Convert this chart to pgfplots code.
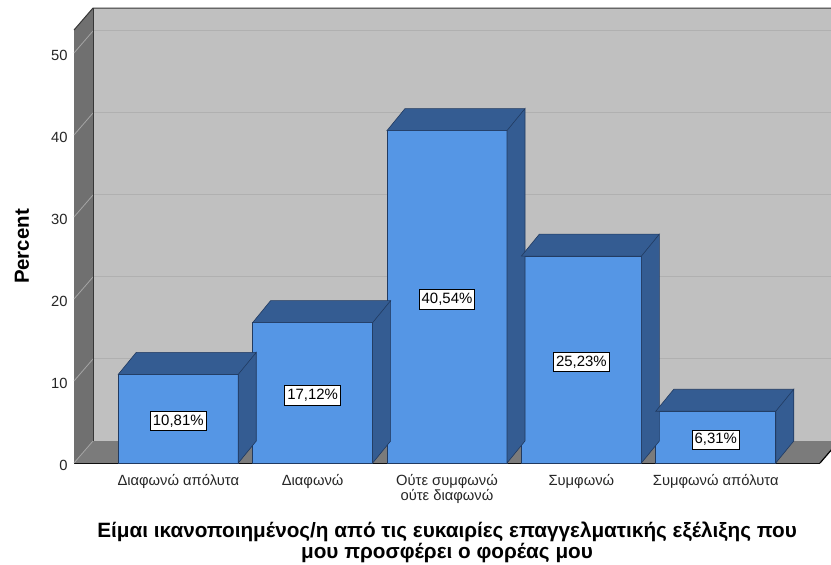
\documentclass[border=0pt]{standalone}
\usepackage{fontspec}
\setmainfont{Liberation Sans}
\usepackage{pgfplots}
\usepackage{pgfplotstable}
\pgfplotsset{compat=1.18}

\definecolor{barfront}{RGB}{85,150,229}
\definecolor{barside}{RGB}{52,92,146}
\definecolor{baredge}{RGB}{33,58,96}
\definecolor{wallback}{RGB}{192,192,192}
\definecolor{wallside}{RGB}{112,112,112}
\definecolor{floorc}{RGB}{123,123,123}
\definecolor{gridback}{RGB}{176,176,176}
\definecolor{gridside}{RGB}{165,165,165}
\definecolor{frameline}{RGB}{55,55,55}

% responses, in percent
\pgfplotstableread{
idx val
0 10.81
1 17.12
2 40.54
3 25.23
4 6.31
}\likert

% top and right faces of a bar; \barval is the bar's value (8.2bp per percent)
\pgfdeclareplotmark{barcap}{%
  \pgfmathsetmacro\capH{\barval*8.2}%
  \pgfpathmoveto{\pgfpoint{-60bp}{0bp}}%
  \pgfpathlineto{\pgfpoint{60bp}{0bp}}%
  \pgfpathlineto{\pgfpoint{78bp}{22bp}}%
  \pgfpathlineto{\pgfpoint{-42bp}{22bp}}%
  \pgfpathclose
  \pgfpathmoveto{\pgfpoint{60bp}{0bp}}%
  \pgfpathlineto{\pgfpoint{78bp}{22bp}}%
  \pgfpathlineto{\pgfpoint{78bp}{22bp-\capH bp}}%
  \pgfpathlineto{\pgfpoint{60bp}{-\capH bp}}%
  \pgfpathclose
  \pgfusepathqfillstroke
}

\begin{document}
\begin{tikzpicture}
\begin{axis}[
  at={(74bp,102bp)}, anchor=south west,
  x=134.37bp, y=8.2bp,
  xmin=-0.776, xmax=4.776, ymin=0, ymax=52.8,
  clip=false,
  axis x line*=bottom, axis y line*=left,
  axis line style={-},
  x axis line style={black, line width=1.4bp},
  y axis line style={frameline, line width=1bp},
  major tick length=0pt,
  xtick={0,...,4},
  xticklabels={Διαφωνώ απόλυτα, Διαφωνώ, {Ούτε συμφωνώ\\ούτε διαφωνώ}, Συμφωνώ, Συμφωνώ απόλυτα},
  xticklabel style={font=\fontsize{14.8}{13.5}\selectfont, align=center, text=black!85, yshift=-8bp},
  ytick={0,10,...,50},
  yticklabel style={font=\fontsize{14.8}{14.8}\selectfont, text=black!85, xshift=-3bp, yshift=-2bp},
  /pgf/number format/assume math mode=true,
  ylabel={Percent},
  ylabel style={font=\bfseries\fontsize{20.5}{20.5}\selectfont, at={([xshift=-52bp]axis description cs:0,0.5)}, anchor=center},
  xlabel={Είμαι ικανοποιημένος/η από τις ευκαιρίες επαγγελματικής εξέλιξης που\\μου προσφέρει ο φορέας μου},
  xlabel style={font=\bfseries\fontsize{20.8}{19}\selectfont, align=center, at={(axis description cs:0.5,0)}, anchor=north, yshift=-59bp, inner sep=0pt},
]
  % floor, side wall and back wall
  \fill[floorc] (axis cs:-0.776,0) -- (axis cs:4.776,0)
     -- ([shift={(19bp,22bp)}]axis cs:4.776,0) -- ([shift={(19bp,22bp)}]axis cs:-0.776,0) -- cycle;
  \fill[wallside] (axis cs:-0.776,0) -- (axis cs:-0.776,52.8)
     -- ([shift={(19bp,22bp)}]axis cs:-0.776,52.8) -- ([shift={(19bp,22bp)}]axis cs:-0.776,0) -- cycle;
  \fill[wallback] ([shift={(19bp,22bp)}]axis cs:-0.776,0) rectangle ([shift={(19bp,22bp)}]axis cs:4.776,52.8);
  \pgfplotsinvokeforeach{10,20,30,40,50}{
    \draw[gridback, line width=1bp] ([shift={(19bp,22bp)}]axis cs:-0.776,#1) -- ([shift={(19bp,22bp)}]axis cs:4.776,#1);
    \draw[gridside, line width=0.8bp] (axis cs:-0.776,#1) -- ([shift={(19bp,22bp)}]axis cs:-0.776,#1);
  }
  \draw[frameline, line width=1bp] ([shift={(19bp,22bp)}]axis cs:-0.776,0) -- ([shift={(19bp,22bp)}]axis cs:-0.776,52.8);
  \draw[frameline, line width=1bp] (axis cs:-0.776,52.8) -- ([shift={(19bp,22bp)}]axis cs:-0.776,52.8) -- ([shift={(19bp,22bp)}]axis cs:4.776,52.8);
  \draw[black, line width=1.2bp] (axis cs:4.776,0) -- ([shift={(19bp,22bp)}]axis cs:4.776,0);
  \draw[gridside, line width=0.8bp] (axis cs:-0.776,0) -- ([shift={(19bp,22bp)}]axis cs:-0.776,0);

  % depth faces of the bars
  \addplot[only marks, mark=barcap, mark options={fill=barside, draw=baredge, line width=0.6bp},
    visualization depends on={\thisrow{val} \as \barval}]
    table[x=idx, y=val] {\likert};

  % front faces with value labels
  \addplot[ybar, bar width=120bp, bar shift=0pt, fill=barfront, draw=baredge, line width=0.6bp,
    visualization depends on={\thisrow{val} \as \labval},
    nodes near coords={\pgfmathprintnumber[fixed, fixed zerofill, precision=2, use comma]{\pgfplotspointmeta}\%},
    every node near coord/.append style={anchor=center, yshift={-4.1bp*\labval-2.5bp},
      fill=white, draw=black, line width=0.9bp, inner xsep=2.5bp, inner ysep=3.5bp, text=black,
      font=\fontsize{15}{15}\selectfont, /pgf/number format/assume math mode=true}]
    table[x=idx, y=val] {\likert};
\end{axis}
\pgfresetboundingbox
\path[use as bounding box] (0,0) rectangle (831bp,565bp);
\end{tikzpicture}
\end{document}
